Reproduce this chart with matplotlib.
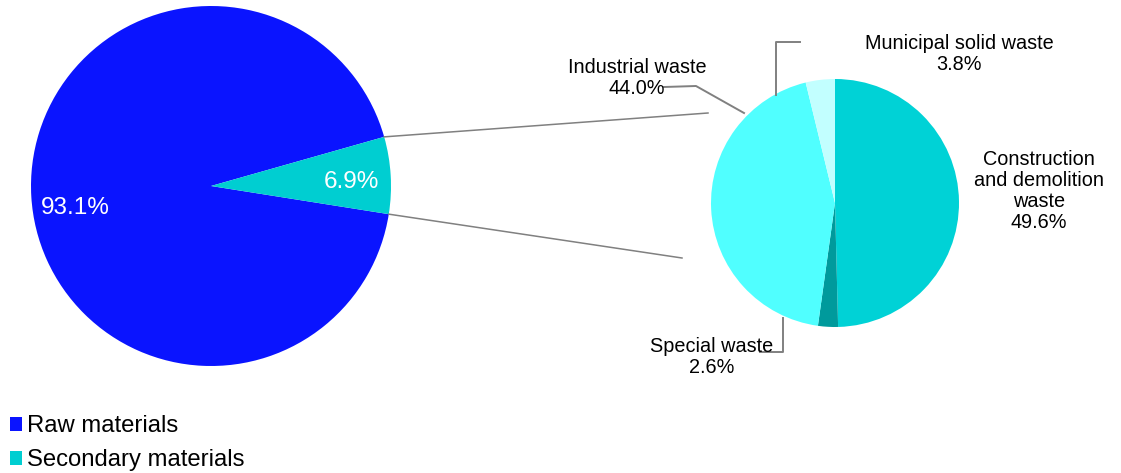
import matplotlib
import matplotlib.pyplot as plt
import numpy as np

matplotlib.use("Agg")

plt.rcParams["font.family"] = ["Liberation Sans", "DejaVu Sans"]

# data
main_labels = ["Raw materials", "Secondary materials"]
main_values = [93.1, 6.9]
main_colors = ["#0A14FF", "#00CED1"]

sub_labels = ["Construction\nand demolition\nwaste", "Special waste", "Industrial waste", "Municipal solid waste"]
sub_values = [49.6, 2.6, 44.0, 3.8]
sub_colors = ["#00D2D6", "#009A9C", "#50FFFF", "#C2FFFF"]

GRAY = "#808080"

fig = plt.figure(figsize=(11.21, 4.73), dpi=100)
ax = fig.add_axes([0, 0, 1, 1])

# left pie
lc, lr = (211, 287), 180
wedges_l, _ = ax.pie(main_values, colors=main_colors, startangle=15.84, counterclock=True,
                     center=lc, radius=lr, frame=True)

# right pie
rc, rr = (835, 270), 124
ax.pie(sub_values, colors=sub_colors, startangle=90, counterclock=False,
       center=rc, radius=rr, frame=True)

ax.set_xlim(0, 1121)
ax.set_ylim(0, 473)
ax.set_aspect("equal")
ax.axis("off")

ax.text(75, 265, f"{main_values[0]:.1f}%", color="white", fontsize=17.5, ha="center", va="center")
ax.text(351, 291, f"{main_values[1]:.1f}%", color="white", fontsize=17.5, ha="center", va="center")

# connection lines from the secondary slice edges
sec = wedges_l[1]
for th, end in [(sec.theta2, (708, 360)), (sec.theta1, (682, 215))]:
    x0 = lc[0] + lr * np.cos(np.radians(th))
    y0 = lc[1] + lr * np.sin(np.radians(th))
    ax.plot([x0, end[0]], [y0, end[1]], color=GRAY, lw=1.1)

# labels with leader lines
fs = 14.3
ls = 1.12
ax.text(1039, 282, f"{sub_labels[0]}\n{sub_values[0]:.1f}%", fontsize=fs, ha="center", va="center",
        linespacing=ls)
ax.text(712, 116, f"{sub_labels[1]}\n{sub_values[1]:.1f}%", fontsize=fs, ha="center", va="center",
        linespacing=ls)
ax.text(637, 395, f"{sub_labels[2]}\n{sub_values[2]:.1f}%", fontsize=fs, ha="center", va="center",
        linespacing=ls)
ax.text(959, 419, f"{sub_labels[3]}\n{sub_values[3]:.1f}%", fontsize=fs, ha="center", va="center",
        linespacing=ls)

ax.plot([776, 776, 800], [378, 431, 431], color=GRAY, lw=1.4)
ax.plot([744, 696, 664], [360, 387, 386], color=GRAY, lw=1.4)
ax.plot([783, 783, 760], [155, 121, 121], color=GRAY, lw=1.4)

ax.legend(wedges_l, main_labels, loc="lower left", bbox_to_anchor=(-0.004, -0.027),
          frameon=False, fontsize=17.2, handlelength=0.52, handleheight=0.52,
          handletextpad=0.2, labelspacing=0.5, borderaxespad=0.2)

fig.savefig("out.png", dpi=100, facecolor="white")
